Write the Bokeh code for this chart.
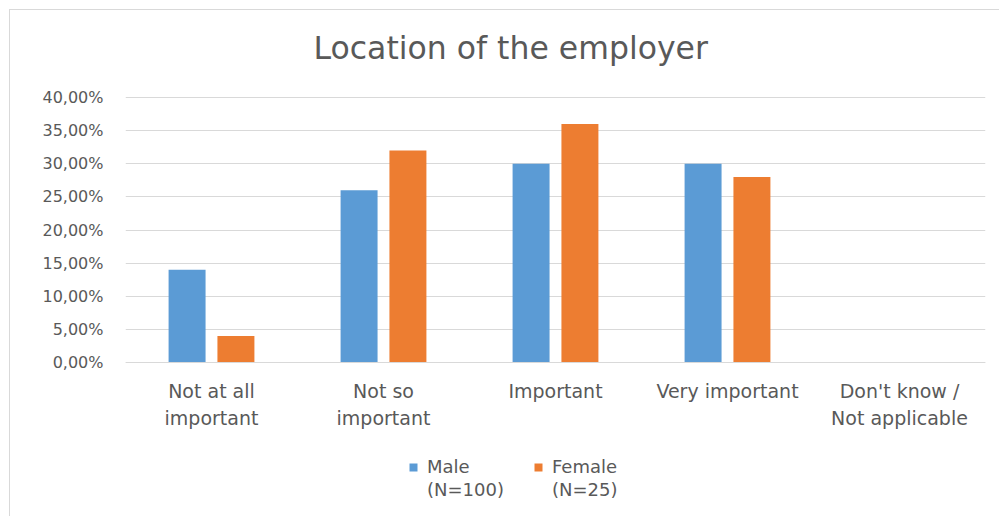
from bokeh.plotting import figure
from bokeh.models import FactorRange, Range1d, FixedTicker, Legend, LegendItem, ColumnDataSource
from bokeh.transform import dodge
from bokeh.embed import file_html
from bokeh.resources import INLINE

categories = ["Not at all\nimportant", "Not so\nimportant", "Important", "Very important", "Don't know /\nNot applicable"]
male = [14, 26, 30, 30, 0]
female = [4, 32, 36, 28, 0]
series_names = ["Male", "Female"]
series_n = ["(N=100)", "(N=25)"]
y_ticks = [0, 5, 10, 15, 20, 25, 30, 35, 40]
y_tick_labels = ["0,00%", "5,00%", "10,00%", "15,00%", "20,00%", "25,00%", "30,00%", "35,00%", "40,00%"]

FONT = "DejaVu Sans"
TXT = "#595959"

src = ColumnDataSource(dict(cat=categories, male=male, female=female))

# frame extends a little above 40% and well below 0 (room for category labels and legend)
p = figure(x_range=FactorRange(*categories), y_range=Range1d(-22.64, 42.566),
           width=990, height=507, output_backend="svg", toolbar_location=None,
           min_border_left=115, min_border_right=15, min_border_top=70, min_border_bottom=5,
           title="Location of the employer")
p.styles = {"margin-left": "9px", "margin-top": "9px",
            "border-left": "1px solid #d9d9d9", "border-top": "1px solid #d9d9d9"}

p.title.align = "left"
p.title.offset = 188
p.title.standoff = 30
p.title.text_font = FONT
p.title.text_font_size = "31.5px"
p.title.text_font_style = "normal"
p.title.text_color = TXT

r1 = p.vbar(x=dodge("cat", -0.142, range=p.x_range), top="male", width=0.215, source=src,
            fill_color="#5B9BD5", line_color=None)
r2 = p.vbar(x=dodge("cat", 0.142, range=p.x_range), top="female", width=0.215, source=src,
            fill_color="#ED7D31", line_color=None)

p.outline_line_color = None
p.xgrid.grid_line_color = None
p.ygrid.grid_line_color = "#d9d9d9"
p.ygrid.ticker = FixedTicker(ticks=y_ticks)

p.yaxis.ticker = FixedTicker(ticks=y_ticks)
p.yaxis.major_label_overrides = {t: l for t, l in zip(y_ticks, y_tick_labels)}
p.yaxis.axis_line_color = None
p.yaxis.major_tick_line_color = None
p.yaxis.minor_tick_line_color = None
p.yaxis.major_label_standoff = 16
p.yaxis.major_label_text_font = FONT
p.yaxis.major_label_text_font_size = "16px"
p.yaxis.major_label_text_color = TXT

p.xaxis.fixed_location = 0
p.xaxis.axis_line_color = "#d9d9d9"
p.xaxis.major_tick_line_color = None
p.xaxis.minor_tick_line_color = None
p.xaxis.major_label_standoff = 11
p.xaxis.major_label_text_font = FONT
p.xaxis.major_label_text_font_size = "19px"
p.xaxis.major_label_text_color = TXT
p.xaxis.major_label_text_line_height = 1.25

legend = Legend(items=[LegendItem(label=series_names[0], renderers=[r1]),
                       LegendItem(label=series_names[1], renderers=[r2]),
                       LegendItem(label=series_n[0], renderers=[]),
                       LegendItem(label=series_n[1], renderers=[])],
                orientation="horizontal", ncols=2, location=(283, 12),
                label_text_font=FONT, label_text_font_size="18px", label_text_color=TXT,
                glyph_width=10, glyph_height=10, label_height=21, label_width=104,
                border_line_color=None, background_fill_alpha=0,
                spacing=2, label_standoff=9, margin=0, padding=0)
p.add_layout(legend, "center")

open("out.html", "w").write(file_html(p, INLINE))
